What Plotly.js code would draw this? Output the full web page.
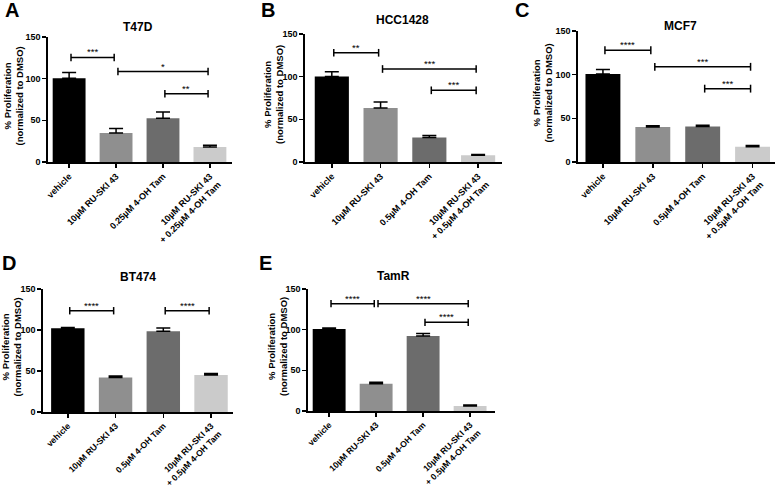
<!DOCTYPE html>
<html><head><meta charset="utf-8">
<script src="https://cdn.plot.ly/plotly-3.0.1.min.js"></script>
<style>body{margin:0;background:#fff}#chart{width:778px;height:489px}</style>
</head><body><div id="chart"></div>
<script>
// ---- data ----
const categories025 = ['vehicle', '10µM RU-SKI 43', '0.25µM 4-OH Tam', '10µM RU-SKI 43<br>+ 0.25µM 4-OH Tam'];
const categories05  = ['vehicle', '10µM RU-SKI 43', '0.5µM 4-OH Tam', '10µM RU-SKI 43<br>+ 0.5µM 4-OH Tam'];
const panelTitles = ['T47D', 'HCC1428', 'MCF7', 'BT474', 'TamR'];
const panelLetters = ['A', 'B', 'C', 'D', 'E'];

const valuesA = [100.5, 34.7, 52.5, 18];
const errorsA = [7, 5.5, 7.5, 2];
const valuesB = [100.3, 63.3, 28.8, 7.8];
const errorsB = [5.5, 7, 2.2, 1.1];
const valuesC = [100.9, 40.2, 40.6, 17.5];
const errorsC = [5, 1.3, 1.6, 1.5];
const valuesD = [102, 42, 98.5, 45];
const errorsD = [1.2, 2, 4, 2];
const valuesE = [100.8, 33.6, 92.2, 6.1];
const errorsE = [1.2, 1.6, 3.2, 1.2];

// significance brackets: from-bar, to-bar, height, label
const sigA_from = [0, 1, 2], sigA_to = [1, 3, 3], sigA_y = [125.5, 108.5, 82], sigA_text = ['***', '*', '**'];
const sigB_from = [0, 1, 2], sigB_to = [1, 3, 3], sigB_y = [128, 109, 84], sigB_text = ['**', '***', '***'];
const sigC_from = [0, 1, 2], sigC_to = [1, 3, 3], sigC_y = [128, 109, 84], sigC_text = ['****', '***', '***'];
const sigD_from = [0, 2], sigD_to = [1, 3], sigD_y = [123.5, 123.5], sigD_text = ['****', '****'];
const sigE_from = [0, 1, 2], sigE_to = [1, 3, 3], sigE_y = [132, 132, 109], sigE_text = ['****', '****', '****'];

const barColors = ['#000000', '#8f8f8f', '#6c6c6c', '#cbcbcb'];

// ---- layout geometry (pixels) ----
const W = 778, H = 489;
const FONT = 'Liberation Sans, Arial, sans-serif';
const panels = [
  {cats: categories025, vals: valuesA, errs: errorsA, sf: sigA_from, st: sigA_to, sy: sigA_y, stx: sigA_text,
   box: [48, 37, 232, 162], xr: [-0.45, 3.47], letter: [12, 10], title: [138, 27], yt: 13, tf: 9},
  {cats: categories05, vals: valuesB, errs: errorsB, sf: sigB_from, st: sigB_to, sy: sigB_y, stx: sigB_text,
   box: [305, 34, 502, 162], xr: [-0.55, 3.49], letter: [268, 10], title: [402, 20], yt: 273, tf: 9},
  {cats: categories05, vals: valuesC, errs: errorsC, sf: sigC_from, st: sigC_to, sy: sigC_y, stx: sigC_text,
   box: [578, 31, 775, 162], xr: [-0.5, 3.45], letter: [522, 10], title: [680, 26], yt: 542, tf: 9},
  {cats: categories05, vals: valuesD, errs: errorsD, sf: sigD_from, st: sigD_to, sy: sigD_y, stx: sigD_text,
   box: [43, 289, 233, 412], xr: [-0.52, 3.46], letter: [9, 263], title: [138, 277], yt: 11, tf: 8.6},
  {cats: categories05, vals: valuesE, errs: errorsE, sf: sigE_from, st: sigE_to, sy: sigE_y, stx: sigE_text,
   box: [308, 289, 495, 411], xr: [-0.45, 3.53], letter: [265, 263], title: [393, 276], yt: 277, tf: 8.6}
];

const traces = [], shapes = [], annotations = [];
const layout = {
  width: W, height: H, margin: {l: 0, r: 0, t: 0, b: 0},
  paper_bgcolor: '#fff', plot_bgcolor: '#fff', showlegend: false,
  font: {family: FONT, color: '#000'}, bargap: 0.3
};

panels.forEach((p, i) => {
  const n = i + 1;
  const xa = 'x' + (n === 1 ? '' : n), ya = 'y' + (n === 1 ? '' : n);
  const xk = 'xaxis' + (n === 1 ? '' : n), yk = 'yaxis' + (n === 1 ? '' : n);
  traces.push({
    type: 'bar', x: p.cats, y: p.vals, xaxis: xa, yaxis: ya, width: 0.7,
    marker: {color: barColors, line: {width: 0}},
    error_y: {type: 'data', symmetric: false, array: p.errs, arrayminus: p.errs.map(() => 0),
              color: '#000', thickness: 1.5, width: 7},
    hoverinfo: 'skip'
  });
  const [x0, y0, x1, y1] = p.box;
  layout[xk] = {
    domain: [x0 / W, x1 / W], anchor: ya, type: 'category', range: p.xr,
    showline: true, linecolor: '#000', linewidth: 1.6, ticks: 'outside', ticklen: 4, tickwidth: 1.5,
    tickcolor: '#000', tickangle: -45, showgrid: false, zeroline: false, fixedrange: true,
    tickfont: {family: FONT, size: p.tf, weight: 'bold', color: '#000'}
  };
  layout[yk] = {
    domain: [1 - y1 / H, 1 - y0 / H], anchor: xa, range: [0, 150], tickvals: [0, 50, 100, 150],
    showline: true, linecolor: '#000', linewidth: 1.6, ticks: 'outside', ticklen: 4, tickwidth: 1.5,
    tickcolor: '#000', showgrid: false, zeroline: false, fixedrange: true,
    tickfont: {family: FONT, size: 9, weight: 'bold', color: '#000'}
  };
  // significance brackets
  p.sf.forEach((f, k) => {
    const a = f + 0.04, b = p.st[k] - 0.04, h = p.sy[k];
    const ln = {color: '#000', width: 1.5};
    shapes.push({type: 'line', xref: xa, yref: ya, x0: a, x1: b, y0: h, y1: h, line: ln});
    shapes.push({type: 'line', xref: xa, yref: ya, x0: a, x1: a, y0: h - 4.5, y1: h + 4.5, line: ln});
    shapes.push({type: 'line', xref: xa, yref: ya, x0: b, x1: b, y0: h - 4.5, y1: h + 4.5, line: ln});
    annotations.push({xref: xa, yref: ya, x: (f + p.st[k]) / 2, y: h, yanchor: 'bottom', yshift: -2,
      text: p.stx[k], showarrow: false, font: {family: FONT, size: 9.5, color: '#000'}});
  });
  // panel letter
  annotations.push({xref: 'paper', yref: 'paper', x: p.letter[0] / W, y: 1 - p.letter[1] / H,
    xanchor: 'center', yanchor: 'middle', text: panelLetters[i], showarrow: false,
    font: {family: FONT, size: 20, weight: 'bold', color: '#000'}});
  // panel title
  annotations.push({xref: 'paper', yref: 'paper', x: p.title[0] / W, y: 1 - p.title[1] / H,
    xanchor: 'center', yanchor: 'middle', text: panelTitles[i], showarrow: false,
    font: {family: FONT, size: 12, weight: 'bold', color: '#000'}});
  // y-axis title
  annotations.push({xref: 'paper', yref: 'paper', x: p.yt / W, y: 1 - ((y0 + y1) / 2 - 3) / H,
    xanchor: 'center', yanchor: 'middle', textangle: -90,
    text: '% Proliferation<br>(normalized to DMSO)', showarrow: false,
    font: {family: FONT, size: 9.5, weight: 'bold', color: '#000'}});
});
layout.shapes = shapes;
layout.annotations = annotations;
Plotly.newPlot('chart', traces, layout, {displayModeBar: false, staticPlot: true});
</script></body></html>
